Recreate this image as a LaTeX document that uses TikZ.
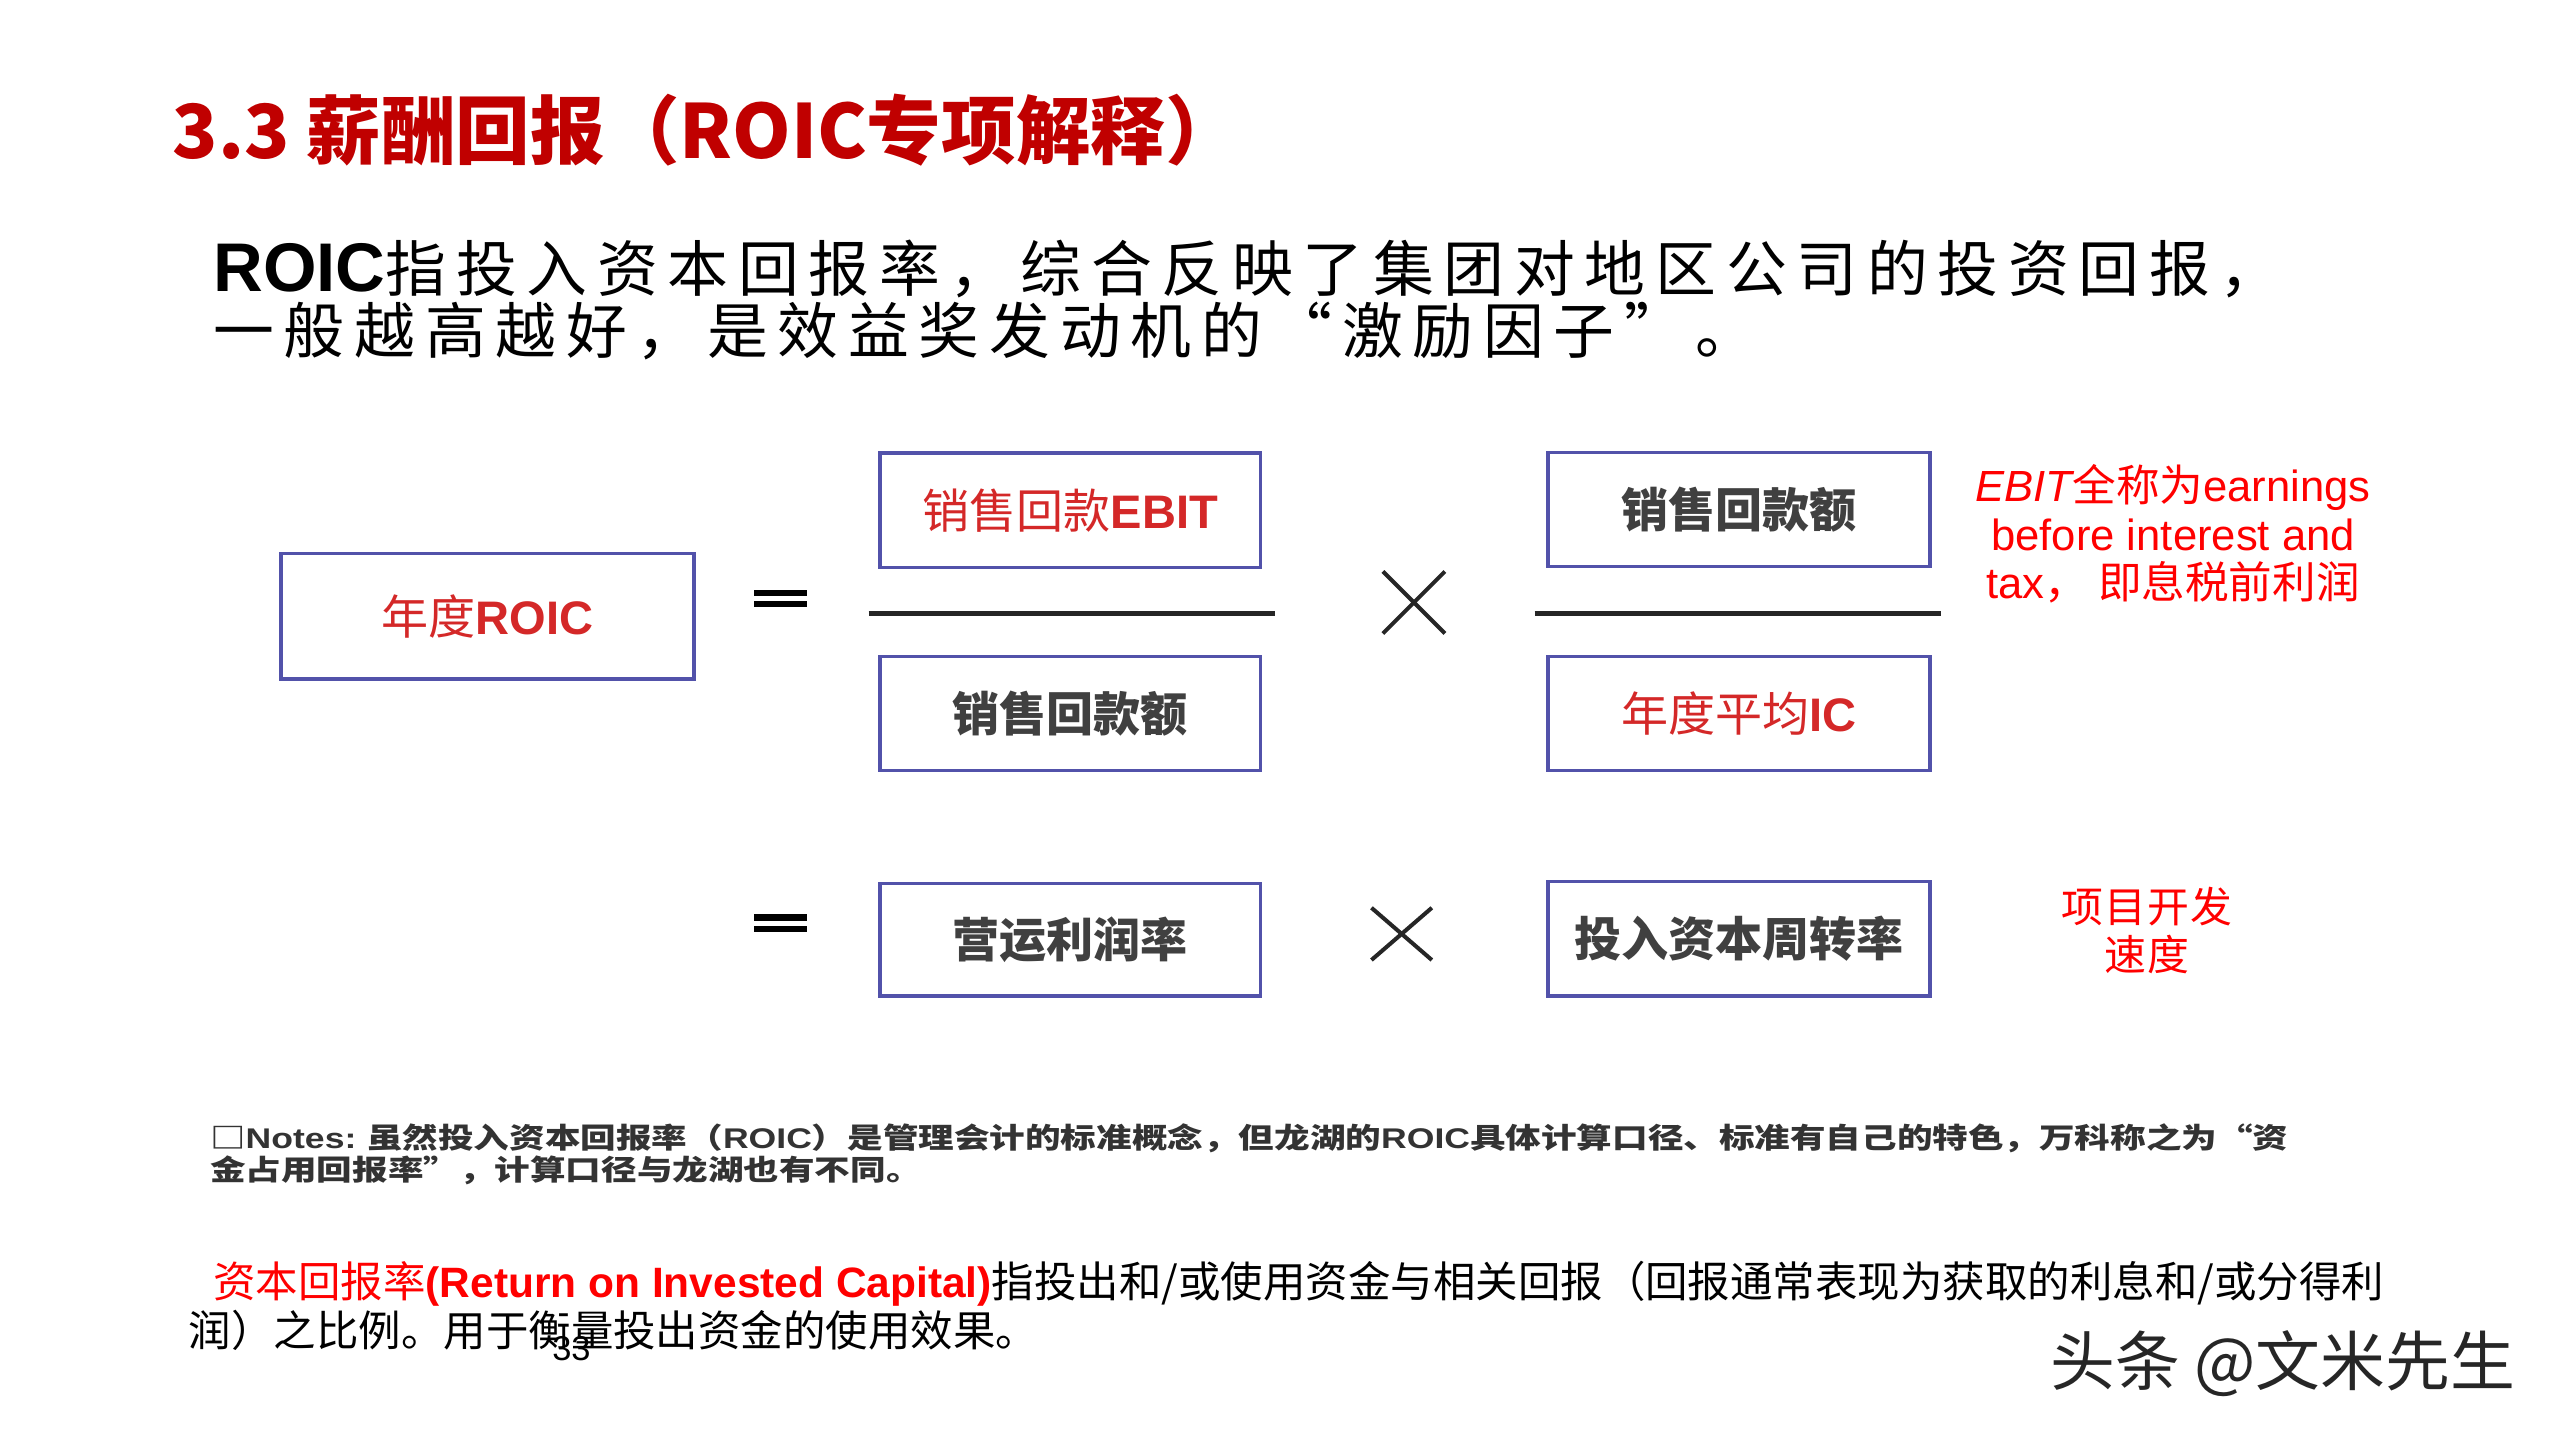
\documentclass[tikz,border=0pt]{standalone}
\usepackage{fontspec}
\usepackage{graphicx}
\setmainfont{Liberation Sans}
\newfontfamily\cjk{Noto Sans CJK SC}
\usetikzlibrary{positioning}

\definecolor{titlered}{RGB}{192,0,0}
\definecolor{boxred}{RGB}{212,40,40}
\definecolor{notered}{RGB}{255,0,0}
\definecolor{boxblue}{RGB}{82,82,170}
\definecolor{boxgray}{RGB}{64,64,64}

\tikzset{
	termbox/.style={shape=rectangle, draw=boxblue, line width=0.6pt, minimum width=2.33cm, minimum height=0.70cm, inner sep=0pt},
	termred/.style={termbox, text=boxred, font=\fontsize{8.2}{9}\selectfont\cjk},
	termgray/.style={termbox, text=boxgray, font=\fontsize{8.2}{9}\selectfont\cjk\bfseries},
	fracline/.style={line width=0.9pt, black!85},
	eqbar/.style={line width=1.1pt, black},
	timesx/.style={line width=0.7pt, black!85},
	plain/.style={anchor=west, inner sep=0pt},
}

\begin{document}
\begin{tikzpicture}
	% Paths, nodes and wires:
	\fill[white] (0,0) rectangle (15.68,8.82);
	\useasboundingbox (0,0) rectangle (15.68,8.82);

	\node[plain, text=titlered, font=\fontsize{13}{15}\selectfont\cjk\bfseries] (title) at (1.05, 8.02){3.3 薪酬回报（ROIC专项解释）};
	\node[plain, font=\fontsize{10.6}{12}\selectfont\cjk] (lead1) at (1.30, 7.17){{\fontsize{12}{13}\selectfont\rmfamily\bfseries ROIC}\addfontfeatures{LetterSpace=16}指投入资本回报率，综合反映了集团对地区公司的投资回报，};
	\node[plain, font=\fontsize{10.6}{12}\selectfont\cjk] (lead2) at (1.30, 6.79){\addfontfeatures{LetterSpace=16}一般越高越好，是效益奖发动机的“激励因子”。};

	% first row: ROIC = EBIT / sales x sales / IC
	\node[termred, minimum width=2.53cm, minimum height=0.77cm] (roic) at (2.985, 5.045){年度{\rmfamily\bfseries ROIC}};
	\node[termred] (ebit) at (6.555, 5.695){销售回款{\rmfamily\bfseries EBIT}};
	\node[termgray] (salesL) at (6.555, 4.45){销售回款额};
	\node[termgray, minimum width=2.34cm] (salesR) at (10.65, 5.70){销售回款额};
	\node[termred, minimum width=2.34cm] (avgic) at (10.65, 4.45){年度平均{\rmfamily\bfseries IC}};

	\coordinate (fracAl) at (5.32, 5.06);
	\coordinate (fracAr) at (7.81, 5.06);
	\coordinate (fracBl) at (9.40, 5.06);
	\coordinate (fracBr) at (11.89, 5.06);
	\draw[fracline] (fracAl) -- (fracAr);
	\draw[fracline] (fracBl) -- (fracBr);

	\coordinate (eqA) at (4.78, 5.155);
	\draw[eqbar] ([xshift=-0.16cm, yshift=0.035cm]eqA) -- ++(0.32, 0);
	\draw[eqbar] ([xshift=-0.16cm, yshift=-0.035cm]eqA) -- ++(0.32, 0);

	\coordinate (timesA) at (8.66, 5.13);
	\draw[timesx] ([shift={(-0.19,0.19)}]timesA) -- ([shift={(0.19,-0.19)}]timesA);
	\draw[timesx] ([shift={(0.19,0.19)}]timesA) -- ([shift={(-0.19,-0.19)}]timesA);

	\node[align=center, text=notered, inner sep=0pt, font=\fontsize{7.6}{8.4}\selectfont] (ebitnote) at (13.31, 5.55){{\itshape EBIT}{\cjk 全称为}earnings\\before interest and\\tax{\cjk ，\ 即息税前利润}};

	% second row: margin x turnover
	\coordinate (eqB) at (4.78, 3.165);
	\draw[eqbar] ([xshift=-0.16cm, yshift=0.035cm]eqB) -- ++(0.32, 0);
	\draw[eqbar] ([xshift=-0.16cm, yshift=-0.035cm]eqB) -- ++(0.32, 0);

	\node[termgray, minimum height=0.69cm] (margin) at (6.555, 3.065){营运利润率};
	\coordinate (timesB) at (8.585, 3.10);
	\draw[timesx] ([shift={(-0.185,0.16)}]timesB) -- ([shift={(0.185,-0.16)}]timesB);
	\draw[timesx] ([shift={(0.185,0.16)}]timesB) -- ([shift={(-0.185,-0.16)}]timesB);
	\node[termgray, minimum width=2.34cm] (turnover) at (10.65, 3.07){投入资本周转率};

	\node[align=center, text=notered, inner sep=0pt, font=\fontsize{7.3}{8.4}\selectfont\cjk\addfontfeatures{LetterSpace=3}] (speed) at (13.15, 3.12){项目开发\\速度};

	% notes and footer
	\node[plain, text=black!80, font=\fontsize{6.2}{7}\selectfont\cjk\bfseries] (notes1) at (1.28, 1.85){\scalebox{1}[0.8]{□{\rmfamily Notes:} 虽然投入资本回报率（{\rmfamily ROIC}）是管理会计的标准概念，但龙湖的{\rmfamily ROIC}具体计算口径、标准有自己的特色，万科称之为“资}};
	\node[plain, text=black!80, font=\fontsize{6.2}{7}\selectfont\cjk\bfseries] (notes2) at (1.28, 1.65){\scalebox{1}[0.8]{金占用回报率”，计算口径与龙湖也有不同。}};

	\node[plain, font=\fontsize{7.4}{8.5}\selectfont\cjk] (def1) at (1.30, 0.96){{\color{notered}资本回报率{\rmfamily\bfseries (Return on Invested Capital)}}指投出和/或使用资金与相关回报（回报通常表现为获取的利息和/或分得利};
	\node[plain, font=\fontsize{7.4}{8.5}\selectfont\cjk] (def2) at (1.15, 0.67){润）之比例。用于衡量投出资金的使用效果。};
	\node[inner sep=0pt, font=\fontsize{6}{7}\selectfont] (pageno) at (3.50, 0.56){33};

	\node[plain, text=black!85, font=\fontsize{11.3}{13}\selectfont\cjk] (mark) at (12.55, 0.47){头条 @文米先生};
\end{tikzpicture}
\end{document}
